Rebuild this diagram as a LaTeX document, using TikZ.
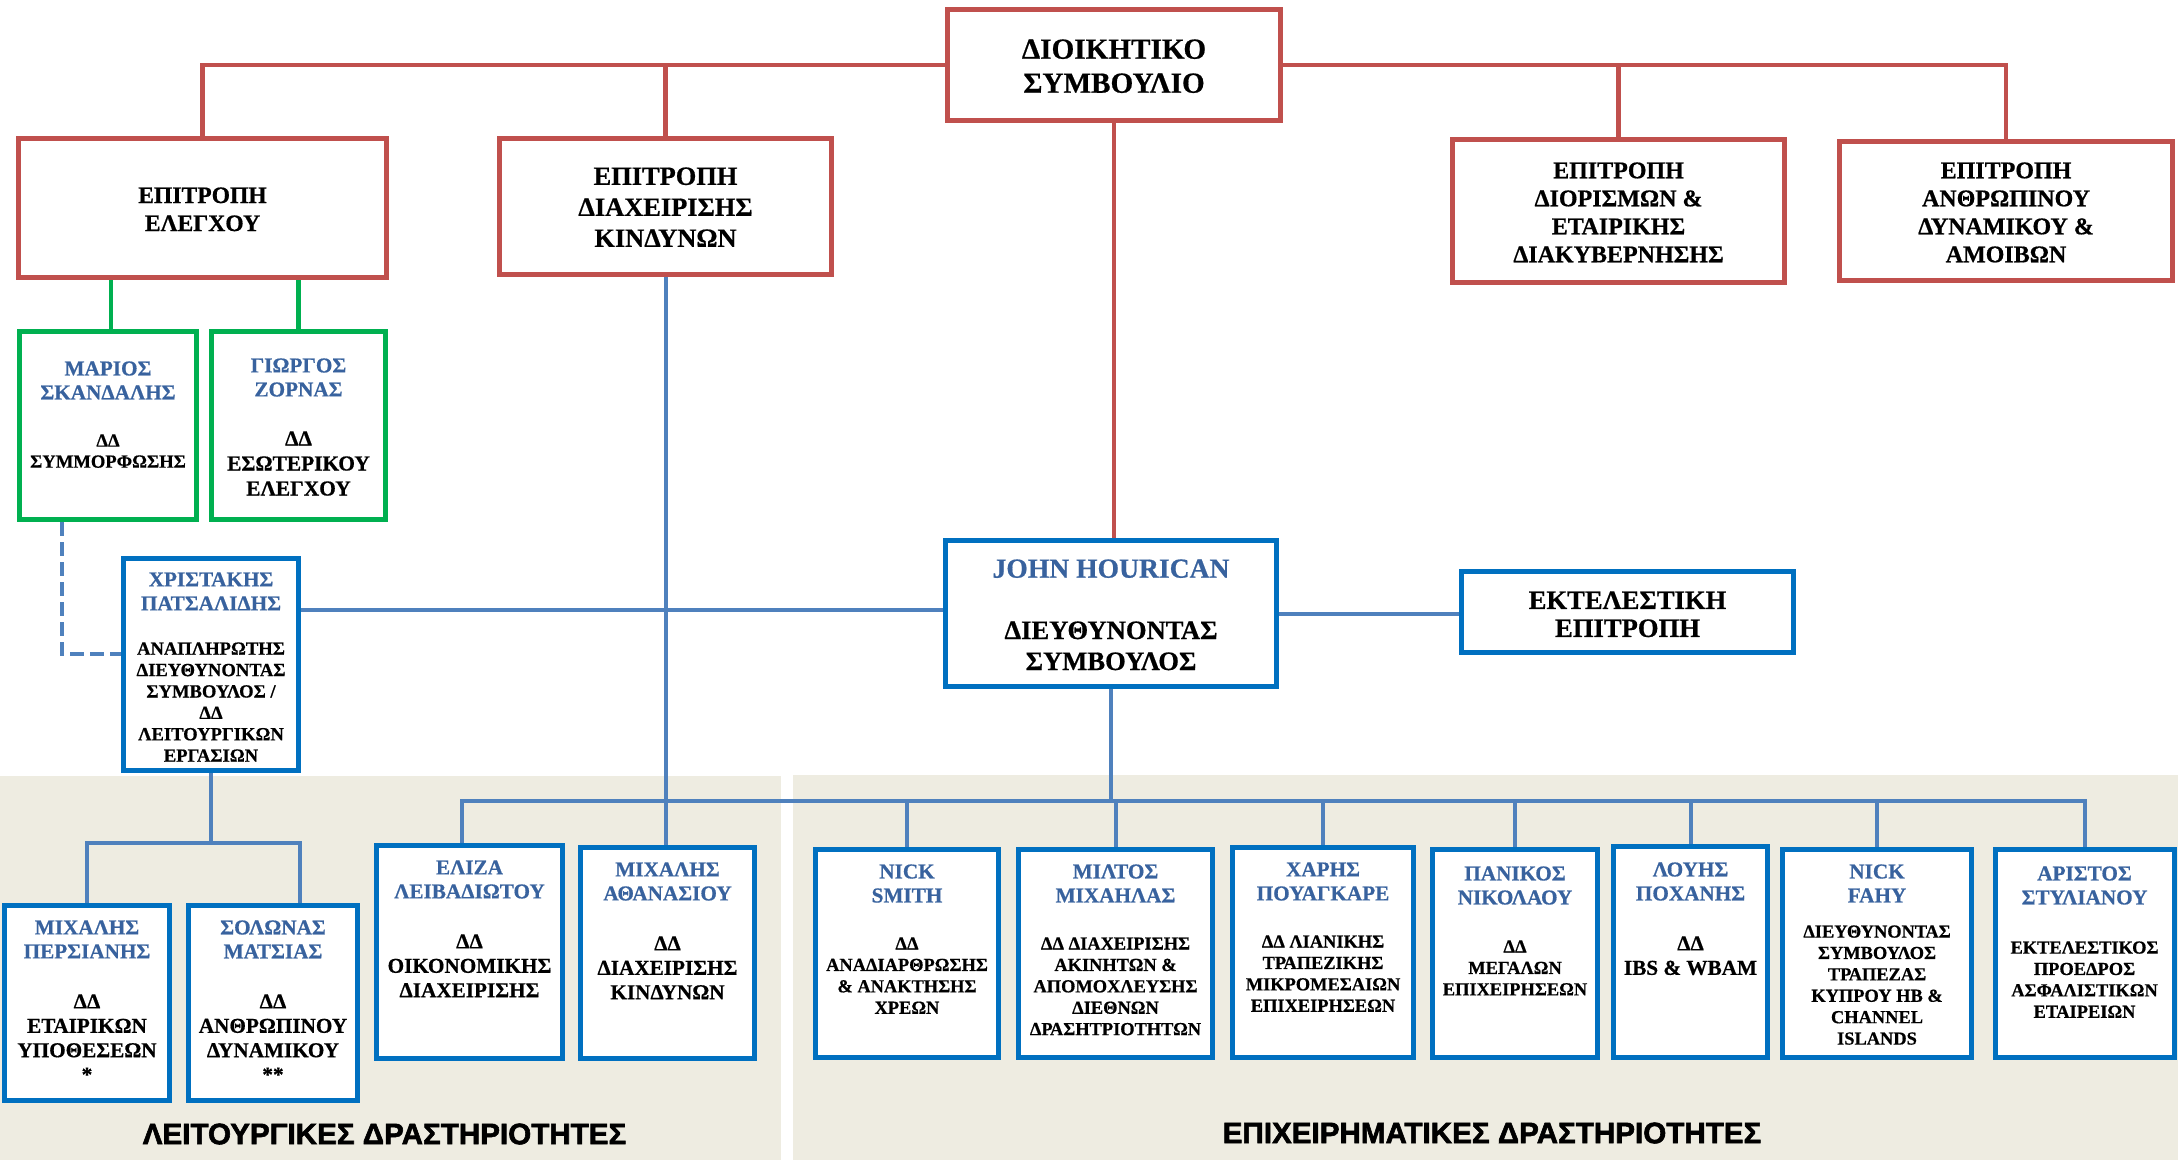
\documentclass[tikz,border=0pt]{standalone}
\usepackage{fontspec}
\setmainfont{Liberation Serif}[BoldFeatures={FakeBold=0.6}]
\newfontfamily\lsans{Liberation Sans}[UprightFont={* Bold}, UprightFeatures={FakeBold=2}]
\definecolor{cred}{RGB}{192,80,77}
\definecolor{cgreen}{RGB}{0,176,80}
\definecolor{cbox}{RGB}{0,112,192}
\definecolor{cline}{RGB}{79,129,189}
\definecolor{cname}{RGB}{56,98,158}
\definecolor{cband}{RGB}{238,236,225}
\begin{document}
\begin{tikzpicture}[x=0.5pt,y=-0.5pt,
 redbox/.style={draw=cred, line width=2.5pt, fill=white, inner sep=0},
 greenbox/.style={draw=cgreen, line width=2.5pt, fill=white, inner sep=0},
 bluebox/.style={draw=cbox, line width=2.5pt, fill=white, inner sep=0},
 redline/.style={draw=cred, line width=2.3pt},
 greenline/.style={draw=cgreen, line width=2.2pt},
 blueline/.style={draw=cline, line width=2pt},
 dashline/.style={draw=cline, line width=1.8pt, dash pattern=on 7pt off 3pt},
 nm/.style={font=\fontsize{10.6}{12}\selectfont\bfseries, text=cname, align=center, inner sep=0, anchor=north},
 tt/.style={font=\fontsize{10.6}{12.2}\selectfont\bfseries, align=center, inner sep=0, anchor=north},
 ts/.style={font=\fontsize{9.2}{10.7}\selectfont\bfseries, align=center, inner sep=0, anchor=north},
 tb/.style 2 args={font=\fontsize{#1}{#2}\selectfont\bfseries, align=center, inner sep=0, anchor=north},
 bandlabel/.style={font=\lsans\fontsize{14.8}{17}\selectfont, inner sep=0}
]
\useasboundingbox (0,0) rectangle (2178,1160);
\fill[white] (0,0) rectangle (2178,1160);
\fill[cband] (0,776) rectangle (781,1160);
\fill[cband] (793,775) rectangle (2178,1160);

% boxes
\node[redbox, minimum width=166.5pt, minimum height=55.5pt] (board) at (1114,65) {};
\node[redbox, minimum width=184pt, minimum height=69.5pt] (audit) at (202.5,208) {};
\node[redbox, minimum width=166pt, minimum height=68pt] (risk) at (665.5,206.5) {};
\node[redbox, minimum width=166pt, minimum height=71.5pt] (nomin) at (1618.5,211) {};
\node[redbox, minimum width=166.5pt, minimum height=69.5pt] (hr) at (2006,211) {};
\node[greenbox, minimum width=88.5pt, minimum height=94pt] (marios) at (108,425.5) {};
\node[greenbox, minimum width=87pt, minimum height=94pt] (giorgos) at (298.5,425.5) {};
\node[bluebox, minimum width=87.5pt, minimum height=106pt] (christakis) at (211,664.5) {};
\node[bluebox, minimum width=165.25pt, minimum height=73pt] (john) at (1111,613.5) {};
\node[bluebox, minimum width=166pt, minimum height=40.5pt] (exec) at (1627.5,612) {};
\node[bluebox, minimum width=82.5pt, minimum height=97.5pt] (persianis) at (87,1003) {};
\node[bluebox, minimum width=84.5pt, minimum height=97.5pt] (solonas) at (273,1003) {};
\node[bluebox, minimum width=93pt, minimum height=106.5pt] (eliza) at (469.5,952) {};
\node[bluebox, minimum width=87pt, minimum height=105.5pt] (athan) at (667.5,953) {};
\node[bluebox, minimum width=91.25pt, minimum height=104pt] (nsmith) at (907,953.5) {};
\node[bluebox, minimum width=97pt, minimum height=104pt] (miltos) at (1115.5,953.5) {};
\node[bluebox, minimum width=90.5pt, minimum height=105pt] (charis) at (1323,952.5) {};
\node[bluebox, minimum width=82.5pt, minimum height=104pt] (panikos) at (1515,953.5) {};
\node[bluebox, minimum width=77pt, minimum height=105.5pt] (louis) at (1690.5,952) {};
\node[bluebox, minimum width=94.25pt, minimum height=104pt] (fahy) at (1877,953.5) {};
\node[bluebox, minimum width=89.5pt, minimum height=104pt] (aristos) at (2084.5,953.5) {};

% red connectors
\draw[redline] (audit.north) |- (board.west);
\draw[redline] (board.east) -| (hr.north);
\draw[redline] (risk.north) -- (risk.north |- board.west);
\draw[redline] (nomin.north) -- (nomin.north |- board.east);
\draw[redline] (board.south) -- (board.south |- john.north);
% green connectors
\coordinate (mtop) at ([xshift=1.5pt]marios.north);
\draw[greenline] (mtop) -- (mtop |- audit.south);
\draw[greenline] (giorgos.north) -- (giorgos.north |- audit.south);
% dashed
\coordinate (mbot) at ([xshift=-23pt]marios.south);
\coordinate (cwest) at ([yshift=5.25pt]christakis.west);
\draw[dashline] (mbot) |- (cwest);
% blue connectors
\coordinate (ceast) at ([yshift=27.25pt]christakis.east);
\draw[blueline] (ceast) -- (ceast -| john.west);
\draw[blueline] (risk.south) -- (risk.south |- athan.north);
\draw[blueline] (john.east) -- (john.east -| exec.west);
\coordinate (bus) at (1111,801);
\draw[blueline] (john.south) -- (bus);
\coordinate (elz) at ([xshift=-4pt]eliza.north);
\draw[blueline] (elz) |- (bus) -| (aristos.north);
\foreach \n in {nsmith,miltos,charis,panikos,louis,fahy}
  \draw[blueline] (\n.north) -- (\n.north |- bus);
\coordinate (cbar) at (211,843);
\draw[blueline] (christakis.south) -- (cbar);
\coordinate (sol) at ([xshift=13.5pt]solonas.north);
\draw[blueline] (persianis.north) |- (cbar) -| (sol);

% texts
\node[tb={14.6}{17}] (boardT) at (1114,39) {ΔΙΟΙΚΗΤΙΚΟ\\ΣΥΜΒΟΥΛΙΟ};
\node[tb={11.8}{14}] (auditT) at (202.5,187) {ΕΠΙΤΡΟΠΗ\\ΕΛΕΓΧΟΥ};
\node[tb={13.2}{15.5}] (riskT) at (665.5,167) {ΕΠΙΤΡΟΠΗ\\ΔΙΑΧΕΙΡΙΣΗΣ\\ΚΙΝΔΥΝΩΝ};
\node[tb={12}{14}] (nominT) at (1618.5,162) {ΕΠΙΤΡΟΠΗ\\ΔΙΟΡΙΣΜΩΝ \&\\ΕΤΑΙΡΙΚΗΣ\\ΔΙΑΚΥΒΕΡΝΗΣΗΣ};
\node[tb={12}{14}] (hrT) at (2006,162) {ΕΠΙΤΡΟΠΗ\\ΑΝΘΡΩΠΙΝΟΥ\\ΔΥΝΑΜΙΚΟΥ \&\\ΑΜΟΙΒΩΝ};

\node[nm] (mariosN) at (108,361) {ΜΑΡΙΟΣ\\ΣΚΑΝΔΑΛΗΣ};
\node[tb={9.3}{10.5}] (mariosT) at (108,434) {ΔΔ\\ΣΥΜΜΟΡΦΩΣΗΣ};
\node[nm] (giorgosN) at (298.5,358) {ΓΙΩΡΓΟΣ\\ΖΟΡΝΑΣ};
\node[tb={10.7}{12.5}] (giorgosT) at (298.5,431) {ΔΔ\\ΕΣΩΤΕΡΙΚΟΥ\\ΕΛΕΓΧΟΥ};
\node[nm] (christakisN) at (211,572) {ΧΡΙΣΤΑΚΗΣ\\ΠΑΤΣΑΛΙΔΗΣ};
\node[tb={9.3}{10.7}] (christakisT) at (211,642) {ΑΝΑΠΛΗΡΩΤΗΣ\\ΔΙΕΥΘΥΝΟΝΤΑΣ\\ΣΥΜΒΟΥΛΟΣ /\\ΔΔ\\ΛΕΙΤΟΥΡΓΙΚΩΝ\\ΕΡΓΑΣΙΩΝ};
\node[tb={13.8}{15.5}, text=cname] (johnN) at (1111,559) {JOHN HOURICAN};
\node[tb={13.3}{15.5}] (johnT) at (1111,621) {ΔΙΕΥΘΥΝΟΝΤΑΣ\\ΣΥΜΒΟΥΛΟΣ};
\node[tb={13.3}{14}] (execT) at (1627.5,591) {ΕΚΤΕΛΕΣΤΙΚΗ\\ΕΠΙΤΡΟΠΗ};

\node[nm] (persianisN) at (87,920) {ΜΙΧΑΛΗΣ\\ΠΕΡΣΙΑΝΗΣ};
\node[tt] (persianisT) at (87,994) {ΔΔ\\ΕΤΑΙΡΙΚΩΝ\\ΥΠΟΘΕΣΕΩΝ\\*};
\node[nm] (solonasN) at (273,920) {ΣΟΛΩΝΑΣ\\ΜΑΤΣΙΑΣ};
\node[tt] (solonasT) at (273,994) {ΔΔ\\ΑΝΘΡΩΠΙΝΟΥ\\ΔΥΝΑΜΙΚΟΥ\\**};
\node[nm] (elizaN) at (469.5,860) {ΕΛΙΖΑ\\ΛΕΙΒΑΔΙΩΤΟΥ};
\node[tt] (elizaT) at (469.5,934) {ΔΔ\\ΟΙΚΟΝΟΜΙΚΗΣ\\ΔΙΑΧΕΙΡΙΣΗΣ};
\node[nm] (athanN) at (667.5,862) {ΜΙΧΑΛΗΣ\\ΑΘΑΝΑΣΙΟΥ};
\node[tt] (athanT) at (667.5,936) {ΔΔ\\ΔΙΑΧΕΙΡΙΣΗΣ\\ΚΙΝΔΥΝΩΝ};

\node[nm] (nsmithN) at (907,864) {NICK\\SMITH};
\node[ts] (nsmithT) at (907,937) {ΔΔ\\ΑΝΑΔΙΑΡΘΡΩΣΗΣ\\\& ΑΝΑΚΤΗΣΗΣ\\ΧΡΕΩΝ};
\node[nm] (miltosN) at (1115.5,864) {ΜΙΛΤΟΣ\\ΜΙΧΑΗΛΑΣ};
\node[ts] (miltosT) at (1115.5,937) {ΔΔ ΔΙΑΧΕΙΡΙΣΗΣ\\ΑΚΙΝΗΤΩΝ \&\\ΑΠΟΜΟΧΛΕΥΣΗΣ\\ΔΙΕΘΝΩΝ\\ΔΡΑΣΗΤΡΙΟΤΗΤΩΝ};
\node[nm] (charisN) at (1323,862) {ΧΑΡΗΣ\\ΠΟΥΑΓΚΑΡΕ};
\node[ts] (charisT) at (1323,935) {ΔΔ ΛΙΑΝΙΚΗΣ\\ΤΡΑΠΕΖΙΚΗΣ\\ΜΙΚΡΟΜΕΣΑΙΩΝ\\ΕΠΙΧΕΙΡΗΣΕΩΝ};
\node[nm] (panikosN) at (1515,866) {ΠΑΝΙΚΟΣ\\ΝΙΚΟΛΑΟΥ};
\node[ts] (panikosT) at (1515,940) {ΔΔ\\ΜΕΓΑΛΩΝ\\ΕΠΙΧΕΙΡΗΣΕΩΝ};
\node[nm] (louisN) at (1690.5,862) {ΛΟΥΗΣ\\ΠΟΧΑΝΗΣ};
\node[tt] (louisT) at (1690.5,936) {ΔΔ\\IBS \& WBAM};
\node[nm] (fahyN) at (1877,864) {NICK\\FAHY};
\node[ts] (fahyT) at (1877,925) {ΔΙΕΥΘΥΝΟΝΤΑΣ\\ΣΥΜΒΟΥΛΟΣ\\ΤΡΑΠΕΖΑΣ\\ΚΥΠΡΟΥ HB \&\\CHANNEL\\ISLANDS};
\node[nm] (aristosN) at (2084.5,866) {ΑΡΙΣΤΟΣ\\ΣΤΥΛΙΑΝΟΥ};
\node[ts] (aristosT) at (2084.5,941) {ΕΚΤΕΛΕΣΤΙΚΟΣ\\ΠΡΟΕΔΡΟΣ\\ΑΣΦΑΛΙΣΤΙΚΩΝ\\ΕΤΑΙΡΕΙΩΝ};

\node[bandlabel] (opL) at (384.5,1134) {ΛΕΙΤΟΥΡΓΙΚΕΣ ΔΡΑΣΤΗΡΙΟΤΗΤΕΣ};
\node[bandlabel] (busL) at (1492,1133) {ΕΠΙΧΕΙΡΗΜΑΤΙΚΕΣ ΔΡΑΣΤΗΡΙΟΤΗΤΕΣ};
\end{tikzpicture}
\end{document}
